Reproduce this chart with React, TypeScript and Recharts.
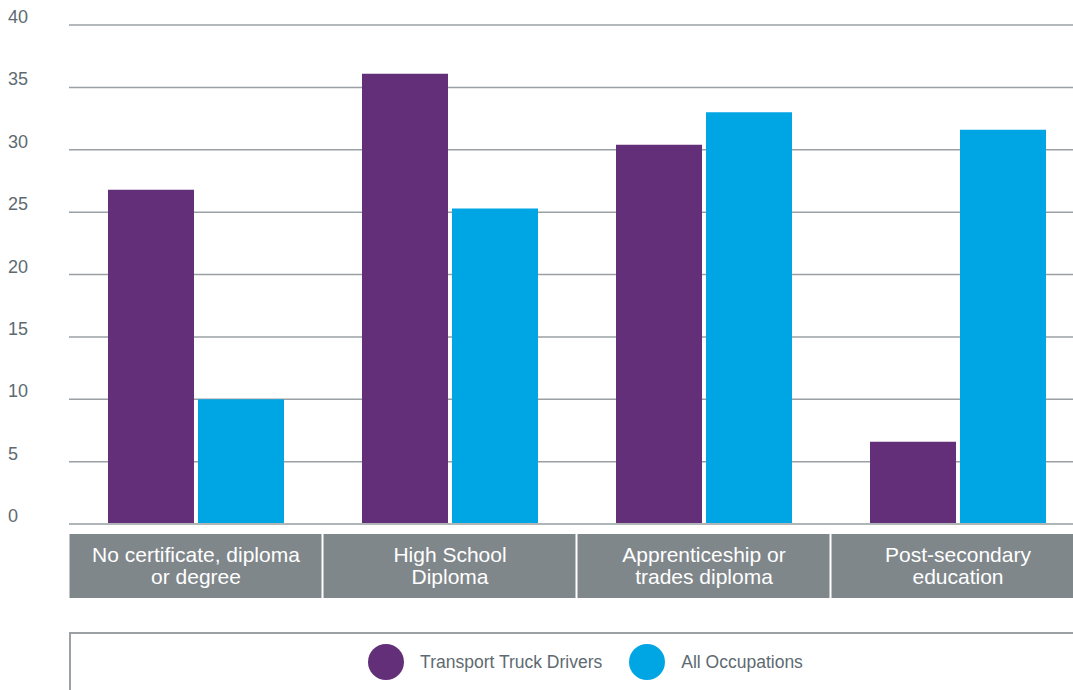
import { BarChart, Bar, XAxis, YAxis, CartesianGrid, Legend } from "recharts";

const categories = [
  "No certificate, diploma or degree",
  "High School Diploma",
  "Apprenticeship or trades diploma",
  "Post-secondary education",
];
const categoryLines = [
  ["No certificate, diploma", "or degree"],
  ["High School", "Diploma"],
  ["Apprenticeship or", "trades diploma"],
  ["Post-secondary", "education"],
];
const truckDrivers = [26.8, 36.1, 30.4, 6.6];
const allOccupations = [10.0, 25.3, 33.0, 31.6];
const yTicks = [0, 5, 10, 15, 20, 25, 30, 35, 40];

const PURPLE = "#622f78";
const BLUE = "#00a6e3";
const TEXT = "#5e6a71";
const FONT = "'Liberation Sans', Arial, Helvetica, sans-serif";

const data = categories.map((name, i) => ({
  name,
  truck: truckDrivers[i],
  all: allOccupations[i],
}));

const series = [
  { key: "truck", label: "Transport Truck Drivers", color: PURPLE },
  { key: "all", label: "All Occupations", color: BLUE },
];

function XTick(props: any) {
  const { x, y, index } = props;
  const lines = categoryLines[index] || [];
  return (
    <g>
      <rect x={x - 126.5} y={y + 10} width={252} height={64} fill="#80878b" />
      {lines.map((l: string, i: number) => (
        <text
          key={i}
          x={x}
          y={y + 38 + i * 22}
          textAnchor="middle"
          fill="#ffffff"
          fontSize={21}
          fontFamily={FONT}
        >
          {l}
        </text>
      ))}
    </g>
  );
}

function YTick(props: any) {
  const { y, payload } = props;
  return (
    <text x={8} y={y - 2} textAnchor="start" fill={TEXT} fontSize={18} fontFamily={FONT}>
      {payload.value}
    </text>
  );
}

function LegendBox() {
  return (
    <div
      style={{
        boxSizing: "border-box",
        height: 58,
        borderTop: "2px solid #9aa0a4",
        borderLeft: "2px solid #9aa0a4",
        display: "flex",
        alignItems: "center",
        justifyContent: "center",
        gap: 27,
        fontFamily: FONT,
        fontSize: 17.5,
        color: TEXT,
      }}
    >
      {series.map((s) => (
        <div key={s.key} style={{ display: "flex", alignItems: "center" }}>
          <span
            style={{
              width: 36,
              height: 36,
              borderRadius: "50%",
              background: s.color,
              display: "inline-block",
              marginRight: 16,
            }}
          />
          <span>{s.label}</span>
        </div>
      ))}
    </div>
  );
}

export default function App() {
  return (
    <div
      style={{
        position: "absolute",
        left: 0,
        top: 0,
        width: 1073,
        height: 690,
        overflow: "hidden",
        background: "#fff",
      }}
    >
      <BarChart
        width={1100}
        height={690}
        data={data}
        margin={{ top: 25, right: 15, left: 0, bottom: 0 }}
        barSize={86}
        barGap={4}
      >
        <CartesianGrid vertical={false} stroke="#9aa0a4" strokeWidth={1.5} />
        <XAxis
          dataKey="name"
          height={108}
          tickLine={false}
          tickSize={0}
          tickMargin={0}
          axisLine={{ stroke: "#b0b5b8", strokeWidth: 2 }}
          tick={<XTick />}
          interval={0}
        />
        <YAxis
          width={69}
          domain={[0, 40]}
          ticks={yTicks}
          axisLine={false}
          tickLine={false}
          tick={<YTick />}
        />
        <Legend
          verticalAlign="bottom"
          content={<LegendBox />}
          wrapperStyle={{ left: 69, width: 1031, height: 58 }}
        />
        {series.map((s) => (
          <Bar key={s.key} dataKey={s.key} name={s.label} fill={s.color} isAnimationActive={false} />
        ))}
      </BarChart>
    </div>
  );
}
